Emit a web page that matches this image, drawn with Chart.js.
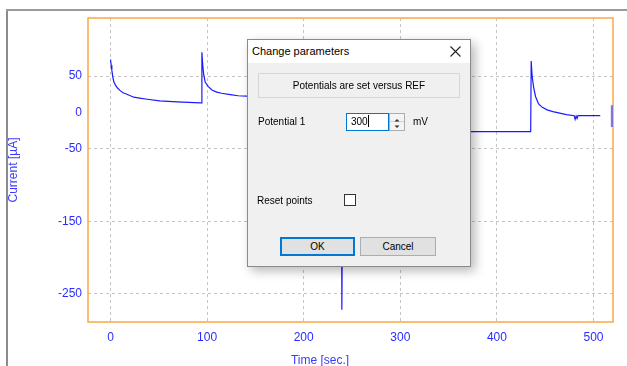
<!DOCTYPE html>
<html>
<head>
<meta charset="utf-8">
<title>Current vs time</title>
<script src="https://cdn.jsdelivr.net/npm/chart.js@4.4.1/dist/chart.umd.min.js"></script>
<style>
  body { margin: 0; background: #fff; }
  #wrap { position: relative; width: 627px; height: 366px; overflow: hidden; font-family: "Liberation Sans", Arial, sans-serif; }
  #plot { position: absolute; left: 0; top: 0; }
  .frameV { position: absolute; left: 6px; top: 9px; width: 2px; height: 357px; background: #8c8c8c; }
  .frameH { position: absolute; left: 6px; top: 9px; width: 621px; height: 2px; background: #9a9a9a; }
  #xTitle { position: absolute; left: 270px; width: 100px; top: 353px; text-align: center; color: #3b3bff; font-size: 12px; }

  /* modal dialog over the chart */
  #dlg { position: absolute; left: 247px; top: 39px; width: 222px; height: 226px; background: #f0f0f0;
         border: 1px solid #8a8a8a; box-shadow: 4px 4px 10px rgba(0,0,0,0.28); font-size: 10px; color: #000; }
  #dlg .bar { position: absolute; left: 0; top: 0; width: 222px; height: 23px; background: #fff; }
  #dlg .bar span { position: absolute; left: 4px; top: 0; line-height: 23px; font-size: 11px; }
  #dlg .close { position: absolute; left: 202px; top: 6px; }
  #dlg .info { position: absolute; left: 10px; top: 33px; width: 200px; height: 23px; border: 1px solid #d6d6d6;
               text-align: center; line-height: 23px; }
  #dlg .lbl { position: absolute; line-height: 14px; }
  #dlg .edit { position: absolute; left: 98px; top: 73px; width: 37px; height: 16px; background: #fff;
               border: 1px solid #0078d7; line-height: 16px; padding-left: 4px; }
  #dlg .edit i { display: inline-block; width: 1px; height: 12px; background: #000; vertical-align: -2px; }
  #dlg .spin { position: absolute; left: 141px; top: 73px; width: 14px; height: 16px; border: 1px solid #adadad; background: #f4f4f4; }
  #dlg .spin div { height: 7px; border-bottom: 1px solid #d0d0d0; position: relative; }
  #dlg .chk { position: absolute; left: 96px; top: 154px; width: 10px; height: 10px; border: 1px solid #333; background: #fff; }
  #dlg .btn { position: absolute; top: 197px; height: 17px; background: #e1e1e1; border: 1px solid #adadad;
              text-align: center; line-height: 17px; }
  #dlg .btn.ok { left: 32px; width: 73px; border: 1px solid #0078d7; box-shadow: inset 0 0 0 1px #0078d7; }
  #dlg .btn.cancel { left: 112px; width: 74px; }
</style>
</head>
<body>
<div id="wrap">
  <canvas id="plot" width="627" height="366"></canvas>
  <div class="frameV"></div>
  <div class="frameH"></div>
  <div id="xTitle">Time [sec.]</div>

  <div id="dlg">
    <div class="bar"><span>Change parameters</span>
      <svg class="close" width="11" height="11" viewBox="0 0 11 11"><path d="M0.5 0.5 L10.5 10.5 M10.5 0.5 L0.5 10.5" stroke="#222" stroke-width="1.1"/></svg>
    </div>
    <div class="info">Potentials are set versus REF</div>
    <div class="lbl" style="left:10px; top:75px;">Potential 1</div>
    <div class="edit">300<i></i></div>
    <div class="spin">
      <div><svg width="14" height="7" viewBox="0 0 14 7"><path d="M4.5 5.5 L7 3 L9.5 5.5 Z" fill="#333"/></svg></div>
      <div style="border:none"><svg width="14" height="8" viewBox="0 0 14 8"><path d="M4.5 2.5 L7 5 L9.5 2.5 Z" fill="#333"/></svg></div>
    </div>
    <div class="lbl" style="left:165px; top:75px;">mV</div>
    <div class="lbl" style="left:9px; top:154px;">Reset points</div>
    <div class="chk"></div>
    <div class="btn ok">OK</div>
    <div class="btn cancel">Cancel</div>
  </div>
</div>

<script>
// Measured trace: time in seconds, current in microamps
const timeSec = [0, 0.7, 1.4, 2.5, 3.5, 5, 7, 10, 13, 17, 24, 30, 38, 51, 69, 93, 94.5,
                 94.6, 95.5, 96.5, 98, 101, 105, 110, 115, 124, 132, 141, 170, 200, 239,
                 239.5, 240.5, 242, 246, 260, 300, 380, 435,
                 435.5, 436.5, 438, 440, 443, 447, 452, 458, 465, 472, 480, 481, 482, 483, 484, 495, 507];
const currentUA = [73, 65, 58, 48, 42, 38, 34, 30, 27, 25, 21, 19.8, 18.2, 15.8, 14.6, 13.2, 13.2,
                   83, 65, 52, 42, 36, 31, 28, 26.4, 24.5, 23, 22.5, 21.5, 21, 20.5,
                   -272, -50, -35, -30, -28, -27, -26.4, -26.4,
                   71, 50, 35, 22, 12, 7, 3.5, 1, -1, -3, -4.5, -9.5, -5, -8.5, -4.5, -4.5, -4.5];

// cursor marker at the right edge
const markerTime = [519, 519];
const markerCurrent = [10, -20];

const xTicks = [0, 100, 200, 300, 400, 500];
const yTicks = [50, 0, -50, -150, -250];

const labelColor = '#2c2cff';
const gridColor = '#c4c4c4';

// orange box round the plot area
const plotFrame = {
    id: 'plotFrame',
    beforeDatasetsDraw(chart) {
        const { ctx, chartArea: a } = chart;
        ctx.save();
        ctx.strokeStyle = '#f8a847';
        ctx.lineWidth = 1.5;
        ctx.strokeRect(a.left, a.top, a.right - a.left, a.bottom - a.top);
        ctx.restore();
    }
};

new Chart(document.getElementById('plot').getContext('2d'), {
    type: 'line',
    data: {
        datasets: [
            {
                label: 'Current',
                data: timeSec.map((t, i) => ({ x: t, y: currentUA[i] })),
                borderColor: '#1a1aff',
                borderWidth: 1.2,
                pointRadius: 0,
                tension: 0,
            },
            {
                label: 'Cursor',
                data: markerTime.map((t, i) => ({ x: t, y: markerCurrent[i] })),
                borderColor: 'rgba(70,70,255,0.75)',
                borderWidth: 2,
                pointRadius: 0,
            },
        ],
    },
    options: {
        responsive: false,
        animation: false,
        layout: { padding: { top: 18, right: 14, left: 0, bottom: 0 } },
        plugins: { legend: { display: false }, tooltip: { enabled: false } },
        scales: {
            x: {
                type: 'linear',
                min: -23.3,
                max: 520.2,
                afterBuildTicks: (s) => { s.ticks = xTicks.map((v) => ({ value: v })); },
                afterFit: (s) => { s.height = 44; },
                ticks: { color: labelColor, font: { family: 'Liberation Sans', size: 12 }, padding: 8, maxRotation: 0, autoSkip: false },
                grid: { color: gridColor, drawTicks: false },
                border: { display: false, dash: [3, 3] },
            },
            y: {
                min: -289,
                max: 130.2,
                afterBuildTicks: (s) => { s.ticks = yTicks.map((v) => ({ value: v })); },
                afterFit: (s) => { s.width = 88; },
                ticks: { color: labelColor, font: { family: 'Liberation Sans', size: 12 }, padding: 6, autoSkip: false },
                grid: { color: (c) => (c.tick && c.tick.value === 0 ? 'rgba(0,0,0,0)' : gridColor), drawTicks: false },
                border: { display: false, dash: [3, 3] },
                title: {
                    display: true,
                    text: 'Current [µA]',
                    color: '#3b3bff',
                    font: { family: 'Liberation Sans', size: 12 },
                    padding: { top: 6, bottom: 0 },
                },
            },
        },
    },
    plugins: [plotFrame],
});
</script>
</body>
</html>
